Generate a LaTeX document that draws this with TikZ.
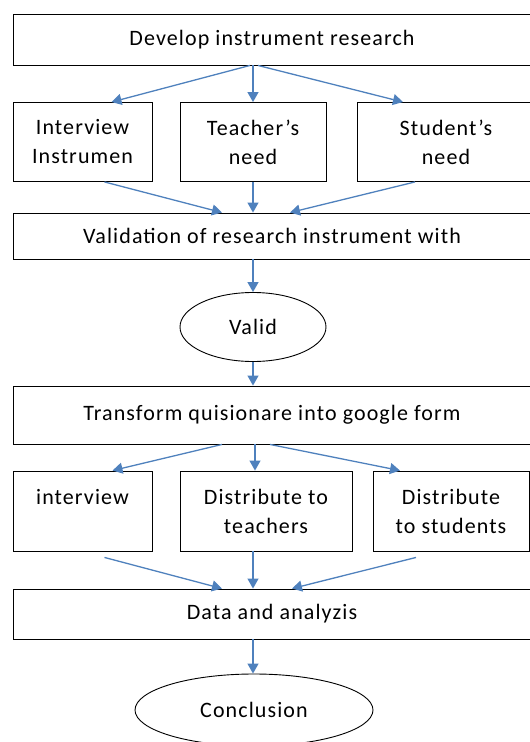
\documentclass[tikz,border=0pt]{standalone}
\usepackage{fontspec}
\setmainfont[LetterSpace=5]{Carlito}
\usepackage{tikz}
\usetikzlibrary{arrows.meta,shapes.geometric}
\definecolor{flowblue}{RGB}{79,129,189}

\begin{document}
\begin{tikzpicture}[x=1pt,y=-1pt,font=\fontsize{22}{29}\selectfont,
  box/.style={draw,line width=0.9pt,rectangle,inner sep=0pt,align=center},
  wide/.style={box,minimum width=518pt},
  oval/.style={draw,line width=0.9pt,ellipse,inner sep=0pt},
  flow/.style={draw=flowblue,line width=1.3pt,-{Triangle[length=10pt,width=11pt]}}]
\useasboundingbox (0,0) rectangle (530,742);
\node[wide,minimum height=51pt] (dev) at (272,39.5) {Develop instrument research};
\node[box,minimum width=139pt,minimum height=79pt] (int) at (82.5,142) {Interview\\Instrumen};
\node[box,minimum width=146pt,minimum height=79pt] (teach) at (253,142) {Teacher’s\\need};
\node[box,minimum width=178pt,minimum height=79pt] (stud) at (446,142) {Student’s\\need};
\node[wide,minimum height=46pt] (val) at (272,236) {Validation of research instrument with};
\node[oval,minimum width=146pt,minimum height=69pt] (valid) at (253,327) {Valid};
\node[wide,minimum height=58pt] (trans) at (272,415) {Transform quisionare into google form};
\node[box,minimum width=139pt,minimum height=80pt] (iv) at (82.5,511) {interview\\\mbox{}};
\node[box,minimum width=172pt,minimum height=80pt] (dt) at (266,511) {Distribute to\\teachers};
\node[box,minimum width=156pt,minimum height=80pt] (ds) at (451,511) {Distribute\\to students};
\node[wide,minimum height=50pt] (data) at (272,614) {Data and analyzis};
\node[oval,minimum width=238pt,minimum height=72pt] (concl) at (254,710) {Conclusion};

\draw[flow] ([xshift=-22pt]dev.south) -- ([xshift=29pt]int.north);
\draw[flow] ([xshift=-19pt]dev.south) -- (teach.north);
\draw[flow] ([xshift=-14pt]dev.south) -- ([xshift=-43pt]stud.north);
\draw[flow] ([xshift=22pt]int.south) -- ([xshift=-50pt]val.north);
\draw[flow] (teach.south) -- ([xshift=-19pt]val.north);
\draw[flow] ([xshift=-31pt]stud.south) -- ([xshift=18pt]val.north);
\draw[flow] ([xshift=-19pt]val.south) -- (valid.north);
\draw[flow] (valid.south) -- ([xshift=-19pt]trans.north);
\draw[flow] ([xshift=-50pt]trans.south) -- ([xshift=30pt]iv.north);
\draw[flow] ([xshift=-17pt]trans.south) -- ([xshift=-11pt]dt.north);
\draw[flow] ([xshift=-2pt]trans.south) -- ([xshift=-51pt]ds.north);
\draw[flow] ([xshift=22pt,yshift=-6pt]iv.south) -- ([xshift=-50pt]data.north);
\draw[flow] ([xshift=-13pt]dt.south) -- ([xshift=-19pt]data.north);
\draw[flow] ([xshift=-35pt,yshift=-6pt]ds.south) -- ([xshift=20pt]data.north);
\draw[flow] ([xshift=-19pt]data.south) -- ([xshift=-1pt]concl.north);
\end{tikzpicture}
\end{document}
